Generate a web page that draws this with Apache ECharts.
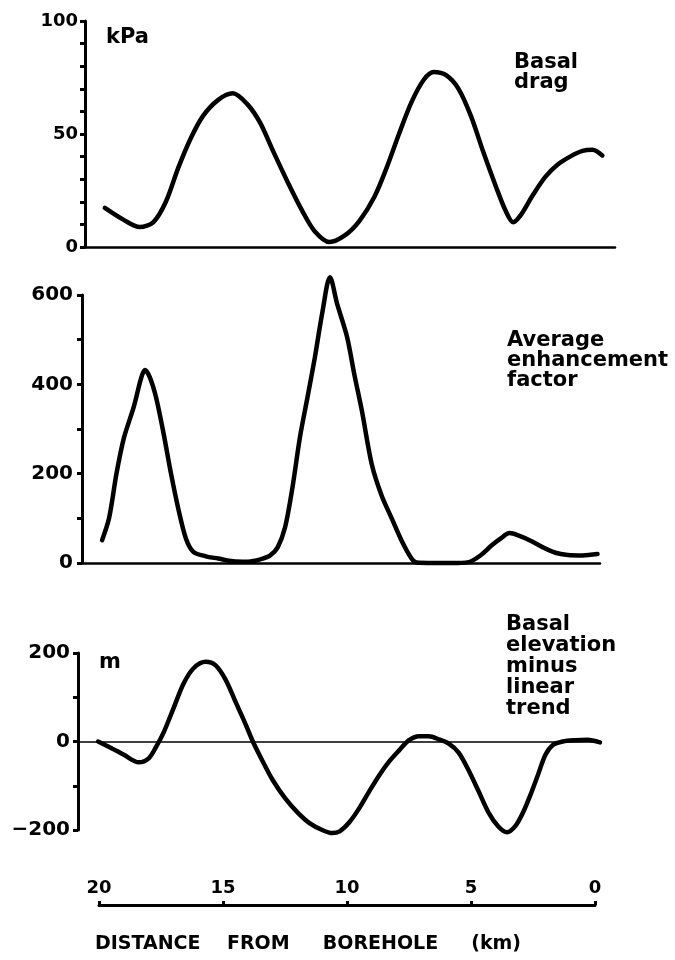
<!DOCTYPE html>
<html>
<head>
<meta charset="utf-8">
<script src="https://cdn.jsdelivr.net/npm/echarts@6/dist/echarts.min.js"></script>
<style>
html,body{margin:0;padding:0;background:#fff;}
#chart{width:675px;height:960px;}
</style>
</head>
<body>
<div id="chart"></div>
<script>
// Distance from borehole (km) and values
var dragKm  = [19.76, 19.0, 18.35, 17.8, 17.3, 16.8, 16.3, 15.8, 15.2, 14.6, 14.0, 13.5, 13.0, 12.4, 11.8, 11.3, 10.7, 10.1, 9.5, 8.9, 8.4, 7.9, 7.4, 6.9, 6.5, 6.0, 5.5, 5.0, 4.5, 4.0, 3.6, 3.3, 3.0, 2.5, 2.0, 1.5, 1.0, 0.5, 0.1, -0.3];
var dragKPa = [17.3, 12, 8.8, 11, 20, 35, 48, 58, 65, 68, 63, 55, 43, 29, 16, 7, 2.2, 5, 11.5, 22, 35, 50, 64, 74, 77.4, 76, 70, 58, 42, 27, 16, 11, 14, 23, 31, 36.5, 40, 42.5, 43, 40.5];

var enhKm  = [19.88, 19.6, 19.3, 19.0, 18.6, 18.3, 18.15, 17.95, 17.7, 17.4, 17.1, 16.8, 16.5, 16.2, 15.7, 15.2, 14.6, 14.0, 13.5, 13.1, 12.8, 12.5, 12.2, 11.9, 11.6, 11.3, 11.0, 10.69, 10.4, 10.0, 9.7, 9.4, 9.0, 8.6, 8.2, 7.8, 7.4, 7.2, 6.5, 5.8, 5.1, 4.6, 4.2, 3.8, 3.45, 3.1, 2.6, 2.1, 1.6, 1.1, 0.5, -0.1];
var enhVal = [51, 100, 200, 280, 350, 415, 432, 415, 370, 290, 200, 120, 55, 25, 15, 10, 4, 3, 8, 17, 35, 80, 170, 282, 370, 460, 560, 640, 580, 506, 420, 340, 220, 150, 100, 50, 10, 1, 0, 0, 2, 18, 38, 55, 67, 62, 50, 35, 23, 18, 17, 20];

var elevKm  = [20.04, 19.5, 19.0, 18.4, 18.0, 17.7, 17.4, 17.0, 16.6, 16.2, 15.7, 15.3, 14.9, 14.5, 14.1, 13.8, 13.4, 13.0, 12.5, 12.0, 11.5, 11.0, 10.6, 10.3, 9.9, 9.5, 9.1, 8.7, 8.3, 7.9, 7.5, 7.1, 6.7, 6.3, 5.9, 5.5, 5.1, 4.7, 4.3, 3.9, 3.55, 3.2, 2.9, 2.6, 2.3, 2.0, 1.7, 1.3, 0.8, 0.3, -0.2];
var elevVal = [0, -15, -30, -47, -38, -12, 20, 75, 130, 165, 180, 172, 140, 90, 40, 0, -45, -87, -128, -160, -185, -200, -207, -203, -182, -150, -112, -76, -45, -20, 3, 12, 12, 5, -5, -25, -65, -112, -160, -192, -205, -190, -160, -120, -75, -30, -8, 0, 3, 4, -2];

var kmTickLabels = [20, 15, 10, 5, 0];
var dragTicks = [0, 50, 100];
var enhTicks = [0, 200, 400, 600];
var elevTicks = [-200, 0, 200];

function pairs(xs, ys) { return xs.map(function (x, i) { return [x, ys[i]]; }); }

var FONT = '"DejaVu Sans", "Liberation Sans", sans-serif';
function lbl(size) { return { color: '#000', fontFamily: FONT, fontWeight: 'bold', fontSize: size }; }

function panelX(idx, min, max, lw) {
  return {
    type: 'value', gridIndex: idx, inverse: true, min: min, max: max,
    axisLine: { show: true, onZero: true, lineStyle: { color: '#000', width: lw } },
    axisTick: { show: false }, axisLabel: { show: false }, splitLine: { show: false }
  };
}
function panelY(idx, min, max, interval, minorSplit, ticks, size, margin) {
  return {
    type: 'value', gridIndex: idx, min: min, max: max, interval: interval, position: 'left',
    axisLine: { show: true, onZero: false, lineStyle: { color: '#000', width: 3 } },
    axisTick: { show: true, length: 5, lineStyle: { color: '#000', width: 3 } },
    minorTick: { show: true, splitNumber: minorSplit, length: 5, lineStyle: { color: '#000', width: 3 } },
    splitLine: { show: false },
    axisLabel: Object.assign({ margin: margin, formatter: function (v) { return ticks.indexOf(v) >= 0 ? String(v).replace('-', '\u2212') : ''; } }, lbl(size))
  };
}
function curve(xi, yi, data) {
  return {
    type: 'line', xAxisIndex: xi, yAxisIndex: yi, data: data, smooth: 0.3,
    symbol: 'none', clip: false, lineStyle: { color: '#000', width: 4.5, cap: 'round', join: 'round' }
  };
}

var chart = echarts.init(document.getElementById('chart'), null, { renderer: 'canvas' });
chart.setOption({
  backgroundColor: '#fff',
  animation: false,
  grid: [
    { left: 85, right: 60, top: 21, height: 226 },
    { left: 82, right: 75, top: 295, height: 268 },
    { left: 78, right: 75, top: 653, height: 177 },
    { left: 99, right: 80, top: 887, height: 18 }
  ],
  xAxis: [
    panelX(0, -0.81, 20.56, 2.5),
    panelX(1, -0.2, 20.69, 2.5),
    panelX(2, -0.2, 20.85, 1.5),
    {
      type: 'value', gridIndex: 3, inverse: true, min: 0, max: 20, interval: 5,
      axisLine: { show: true, lineStyle: { color: '#000', width: 3 } },
      axisTick: { show: true, inside: true, length: 4, lineStyle: { color: '#000', width: 3 } },
      axisLabel: Object.assign({ inside: true, margin: 8, formatter: function (v) { return kmTickLabels.indexOf(v) >= 0 ? String(v) : ''; } }, lbl(18)),
      splitLine: { show: false },
      name: 'DISTANCE    FROM     BOREHOLE     (km)',
      nameLocation: 'middle', nameGap: 30,
      nameTextStyle: { color: '#000', fontFamily: FONT, fontWeight: 'bold', fontSize: 19, padding: [0, 78, 0, 0] }
    }
  ],
  yAxis: [
    panelY(0, 0, 100, 50, 5, dragTicks, 18, 7),
    panelY(1, 0, 600, 200, 2, enhTicks, 20, 9),
    panelY(2, -200, 200, 200, 2, elevTicks, 20, 8),
    { type: 'value', gridIndex: 3, min: 0, max: 1, show: false }
  ],
  series: [
    curve(0, 0, pairs(dragKm, dragKPa)),
    curve(1, 1, pairs(enhKm, enhVal)),
    curve(2, 2, pairs(elevKm, elevVal))
  ],
  graphic: [
    { type: 'text', left: 106, top: 27, style: { text: 'kPa', fontFamily: FONT, fontWeight: 'bold', fontSize: 21, fill: '#000' } },
    { type: 'text', left: 514, top: 52, style: { text: 'Basal\ndrag', fontFamily: FONT, fontWeight: 'bold', fontSize: 21, lineHeight: 20, fill: '#000' } },
    { type: 'text', left: 507, top: 330, style: { text: 'Average\nenhancement\nfactor', fontFamily: FONT, fontWeight: 'bold', fontSize: 21, lineHeight: 20, fill: '#000' } },
    { type: 'text', left: 99, top: 652, style: { text: 'm', fontFamily: FONT, fontWeight: 'bold', fontSize: 21, fill: '#000' } },
    { type: 'text', left: 506, top: 614, style: { text: 'Basal\nelevation\nminus\nlinear\ntrend', fontFamily: FONT, fontWeight: 'bold', fontSize: 21, lineHeight: 21, fill: '#000' } }
  ]
});
</script>
</body>
</html>
